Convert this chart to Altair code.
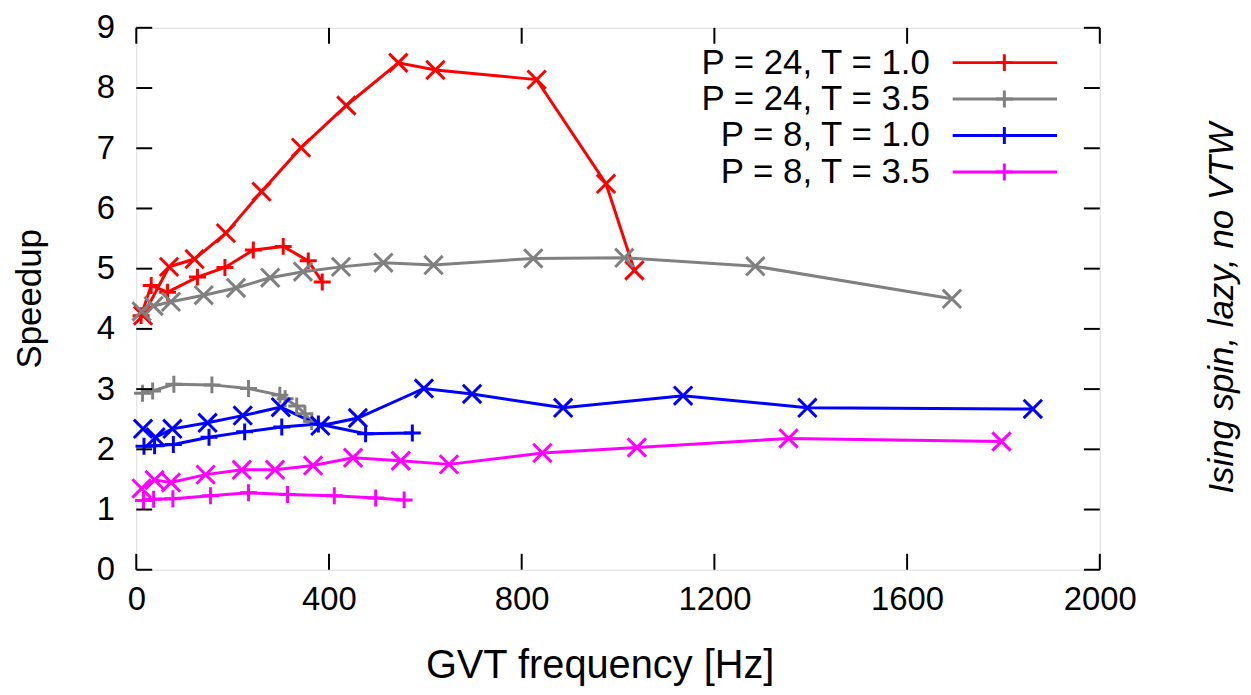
import altair as alt
import pandas as pd

# ---- data ----
series_names = ["P = 24, T = 1.0", "P = 24, T = 3.5", "P = 8, T = 1.0", "P = 8, T = 3.5"]
series_colors = ["#ff0000", "#808080", "#0000ff", "#ff00ff"]

# P = 24, T = 1.0
r_plus_x = [10, 31, 65, 127, 184, 243, 305, 357, 386]
r_plus_y = [4.22, 4.72, 4.61, 4.86, 5.02, 5.31, 5.37, 5.13, 4.78]
r_cross_x = [14, 68, 121, 186, 260, 342, 436, 544, 621, 831, 975, 1034]
r_cross_y = [4.22, 5.03, 5.16, 5.59, 6.28, 7.01, 7.71, 8.42, 8.30, 8.14, 6.41, 4.97]

# P = 24, T = 3.5
g_plus_x = [13, 34, 78, 157, 233, 298, 309, 333, 350, 364]
g_plus_y = [2.93, 2.97, 3.08, 3.07, 3.01, 2.90, 2.84, 2.72, 2.59, 2.46]
g_cross_x = [11, 36, 72, 140, 207, 278, 346, 425, 513, 617, 824, 1013, 1285, 1693]
g_cross_y = [4.29, 4.38, 4.45, 4.56, 4.68, 4.85, 4.95, 5.03, 5.10, 5.06, 5.17, 5.18, 5.04, 4.50]

# P = 8, T = 1.0
b_plus_x = [16, 38, 77, 151, 225, 302, 378, 476, 573]
b_plus_y = [2.05, 2.06, 2.08, 2.20, 2.29, 2.37, 2.42, 2.26, 2.27]
b_cross_x = [14, 40, 75, 148, 221, 300, 382, 460, 597, 697, 886, 1135, 1393, 1861]
b_cross_y = [2.34, 2.20, 2.34, 2.44, 2.56, 2.70, 2.39, 2.52, 3.01, 2.92, 2.69, 2.89, 2.69, 2.67]

# P = 8, T = 3.5
m_plus_x = [15, 36, 76, 154, 233, 314, 411, 497, 556]
m_plus_y = [1.15, 1.17, 1.18, 1.23, 1.28, 1.25, 1.23, 1.19, 1.16]
m_cross_x = [11, 38, 72, 144, 219, 288, 367, 450, 549, 649, 843, 1039, 1354, 1796]
m_cross_y = [1.35, 1.49, 1.45, 1.58, 1.66, 1.66, 1.73, 1.86, 1.81, 1.75, 1.94, 2.03, 2.18, 2.13]

x_ticks = [0, 400, 800, 1200, 1600, 2000]
y_ticks = [0, 1, 2, 3, 4, 5, 6, 7, 8, 9]
side_label = "Ising spin, lazy, no VTW"
x_title = "GVT frequency [Hz]"
y_title = "Speedup"

# ---- build table ----
parts = [
    (series_names[0], "plus", r_plus_x, r_plus_y),
    (series_names[0], "cross", r_cross_x, r_cross_y),
    (series_names[1], "plus", g_plus_x, g_plus_y),
    (series_names[1], "cross", g_cross_x, g_cross_y),
    (series_names[2], "plus", b_plus_x, b_plus_y),
    (series_names[2], "cross", b_cross_x, b_cross_y),
    (series_names[3], "plus", m_plus_x, m_plus_y),
    (series_names[3], "cross", m_cross_x, m_cross_y),
]
rows = []
for name, mk, xs, ys in parts:
    for xv, yv in zip(xs, ys):
        rows.append({"freq": xv, "speedup": yv, "series": name, "marker": mk,
                     "grp": name + "|" + mk})
df = pd.DataFrame(rows)

W, H = 969, 545
FONT = "Liberation Sans"
PLUS = "M-1,0L1,0M0,-1L0,1"
CROSS = "M-1,-1L1,1M-1,1L1,-1"
LW = 3.0

xscale = alt.Scale(domain=[0, 2000], nice=False, zero=False)
yscale = alt.Scale(domain=[0, 9], nice=False, zero=False)
cscale = alt.Scale(domain=series_names, range=series_colors)
sscale = alt.Scale(domain=["plus", "cross"], range=[PLUS, CROSS])

x_axis = alt.Axis(values=x_ticks, format="d", ticks=False, domain=False, grid=False,
                  labelFontSize=33, labelFont=FONT, labelColor="black",
                  labelPadding=14, title=x_title, titleFont=FONT,
                  titleFontSize=40, titleFontWeight="normal", titleColor="black",
                  titleX=466, titleY=96, titleBaseline="middle",
                  titleAlign="center", labelFlush=False)
y_axis = alt.Axis(values=y_ticks, format="d", ticks=False, domain=False, grid=False,
                  labelFontSize=33, labelFont=FONT, labelColor="black",
                  labelPadding=22, title=y_title, titleFont=FONT,
                  titleFontSize=35, titleFontWeight="normal", titleColor="black",
                  titleX=-107, titleY=272, titleAngle=-90,
                  titleBaseline="middle", titleAlign="center",
                  labelFlush=False)

base = alt.Chart(df)

lines = base.mark_line(strokeWidth=LW, clip=True).encode(
    x=alt.X("freq:Q", scale=xscale, axis=x_axis),
    y=alt.Y("speedup:Q", scale=yscale, axis=y_axis),
    color=alt.Color("series:N", scale=cscale, legend=None),
    detail="grp:N",
    order="freq:Q",
)

points = base.mark_point(filled=False, strokeWidth=3, opacity=1).encode(
    x=alt.X("freq:Q", scale=xscale, axis=x_axis),
    y=alt.Y("speedup:Q", scale=yscale, axis=None),
    color=alt.Color("series:N", scale=cscale, legend=None),
    shape=alt.Shape("marker:N", scale=sscale, legend=None),
    size=alt.Size("marker:N", scale=alt.Scale(domain=["plus", "cross"], range=[290, 340]),
                  legend=None),
)

xt = pd.DataFrame({"xt": x_ticks})
yt = pd.DataFrame({"yt": y_ticks})
TL = 16
tick_bottom = alt.Chart(xt).mark_rule(color="black", strokeWidth=2).encode(
    x=alt.X("xt:Q", scale=xscale, axis=x_axis), y=alt.value(H), y2=alt.value(H - TL))
tick_top = alt.Chart(xt).mark_rule(color="black", strokeWidth=2).encode(
    x=alt.X("xt:Q", scale=xscale, axis=x_axis), y=alt.value(0), y2=alt.value(TL))
tick_left = alt.Chart(yt).mark_rule(color="black", strokeWidth=2).encode(
    y=alt.Y("yt:Q", scale=yscale, axis=None), x=alt.value(0), x2=alt.value(TL))
tick_right = alt.Chart(yt).mark_rule(color="black", strokeWidth=2).encode(
    y=alt.Y("yt:Q", scale=yscale, axis=None), x=alt.value(W), x2=alt.value(W - TL))

# ---- legend (manual, gnuplot style) ----
leg = pd.DataFrame({"series": series_names, "row": list(range(len(series_names)))})
lscale = alt.Scale(domain=[0, 3], range=[35, 145])
leg_base = alt.Chart(leg)
leg_text = leg_base.mark_text(align="right", baseline="middle", fontSize=35, font=FONT,
                              color="black").encode(
    x=alt.value(798), y=alt.Y("row:Q", scale=lscale, axis=None), text="series:N")
leg_line = leg_base.mark_rule(strokeWidth=LW).encode(
    x=alt.value(821), x2=alt.value(926), y=alt.Y("row:Q", scale=lscale, axis=None),
    color=alt.Color("series:N", scale=cscale, legend=None))
leg_mark = leg_base.mark_point(shape=PLUS, size=290, filled=False, strokeWidth=3,
                               opacity=1).encode(
    x=alt.value(873), y=alt.Y("row:Q", scale=lscale, axis=None),
    color=alt.Color("series:N", scale=cscale, legend=None))

side = alt.Chart(pd.DataFrame({"t": [side_label]})).mark_text(
    angle=270, align="center", baseline="middle", fontSize=35, font=FONT,
    fontStyle="italic", color="black").encode(
    x=alt.value(1092), y=alt.value(282), text="t:N")

chart = alt.layer(
    lines, points, tick_bottom, tick_top, tick_left, tick_right,
    leg_line, leg_mark, leg_text, side
).resolve_scale(y="independent").properties(
    width=W, height=H,
    padding={"left": 129, "top": 18, "right": 144, "bottom": 118},
    autosize=alt.AutoSizeParams(type="none"),
).configure_view(stroke="black", strokeWidth=2.5).configure(background="white")

chart.save("out.html", embed_options={"renderer": "svg", "actions": False})
